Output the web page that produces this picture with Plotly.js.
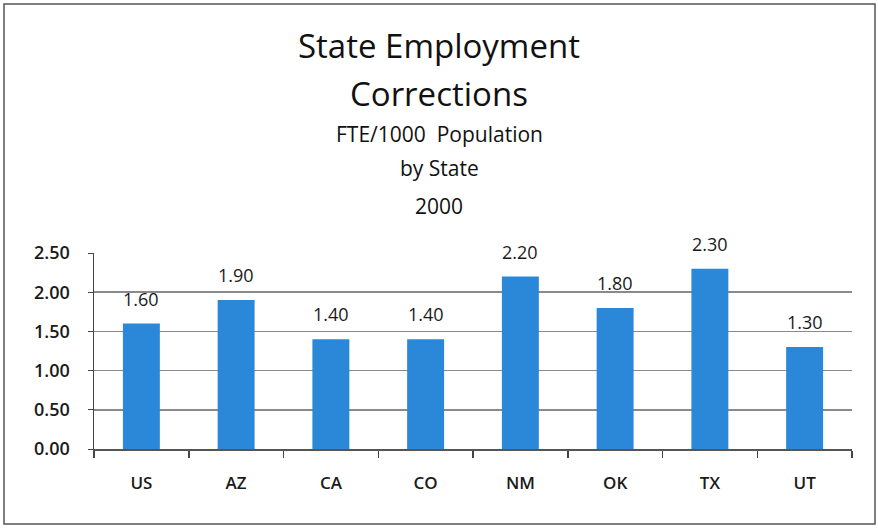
<!DOCTYPE html>
<html><head><meta charset="utf-8">
<script src="https://cdn.plot.ly/plotly-3.0.1.min.js"></script>
<style>html,body{margin:0;padding:0;background:#fff}</style>
</head><body>
<div id="chart" style="width:878px;height:529px"></div>
<script>
const categories = ["US","AZ","CA","CO","NM","OK","TX","UT"];
const values = [1.60,1.90,1.40,1.40,2.20,1.80,2.30,1.30];
const yTicks = [0,0.5,1,1.5,2,2.5];
const titleLines = ["State Employment","Corrections","FTE/1000  Population","by State","2000"];

const FONT = "'Open Sans', Lato, sans-serif";
const L=94, R=26, T=253, B=80, W=878, H=529;
const pw = W-L-R, ph = H-T-B;
const px = x => (x-L)/pw;
const py = y => (H-B-y)/ph;

const ann = [];
const titleY = [45, 93, 134, 168, 206];
const titleSize = [33, 33, 21, 21, 21];
titleLines.forEach((t,i)=>ann.push({text:t, xref:'paper', yref:'paper', x:px(439), y:py(titleY[i]),
  xanchor:'center', yanchor:'middle', showarrow:false,
  font:{family:FONT, size:titleSize[i], color:'#111'}}));
categories.forEach((c,i)=>ann.push({text:values[i].toFixed(2), x:c, y:values[i], xref:'x', yref:'y',
  yanchor:'bottom', yshift:11, showarrow:false, font:{family:FONT, size:18, color:'#1a1a1a'}}));

const data = [{type:'bar', x:categories, y:values, marker:{color:'#2b87d8', line:{width:0}}, hoverinfo:'none'}];
const layout = {
  width:W, height:H, margin:{l:L, r:R, t:T, b:B}, paper_bgcolor:'#fff', plot_bgcolor:'#fff',
  bargap:0.61, showlegend:false,
  xaxis:{type:'category', tickson:'boundaries', ticks:'outside', ticklen:7, tickcolor:'#444', tickwidth:1.5,
    showline:true, linecolor:'#555', linewidth:1.5, showgrid:false,
    tickfont:{family:FONT, size:17, color:'#1a1a1a', weight:600}, ticklabelstandoff:18},
  yaxis:{range:[0,2.5], tickvals:yTicks, ticktext:yTicks.map(v=>v.toFixed(2)), ticks:'outside', ticklen:5,
    tickcolor:'#444', showline:true, linecolor:'#444', linewidth:1.5, showgrid:true, gridcolor:'#8a8a8a', gridwidth:1.5,
    zeroline:false, tickfont:{family:FONT, size:18, color:'#1a1a1a', weight:600}, ticklabelstandoff:14},
  annotations:ann,
  shapes:[{type:'rect', xref:'paper', yref:'paper', x0:px(4), x1:px(875), y0:py(524), y1:py(4),
    line:{color:'#555', width:1.5}, fillcolor:'rgba(0,0,0,0)', layer:'below'}]
};
Plotly.newPlot('chart', data, layout, {staticPlot:true});
</script>
</body></html>
